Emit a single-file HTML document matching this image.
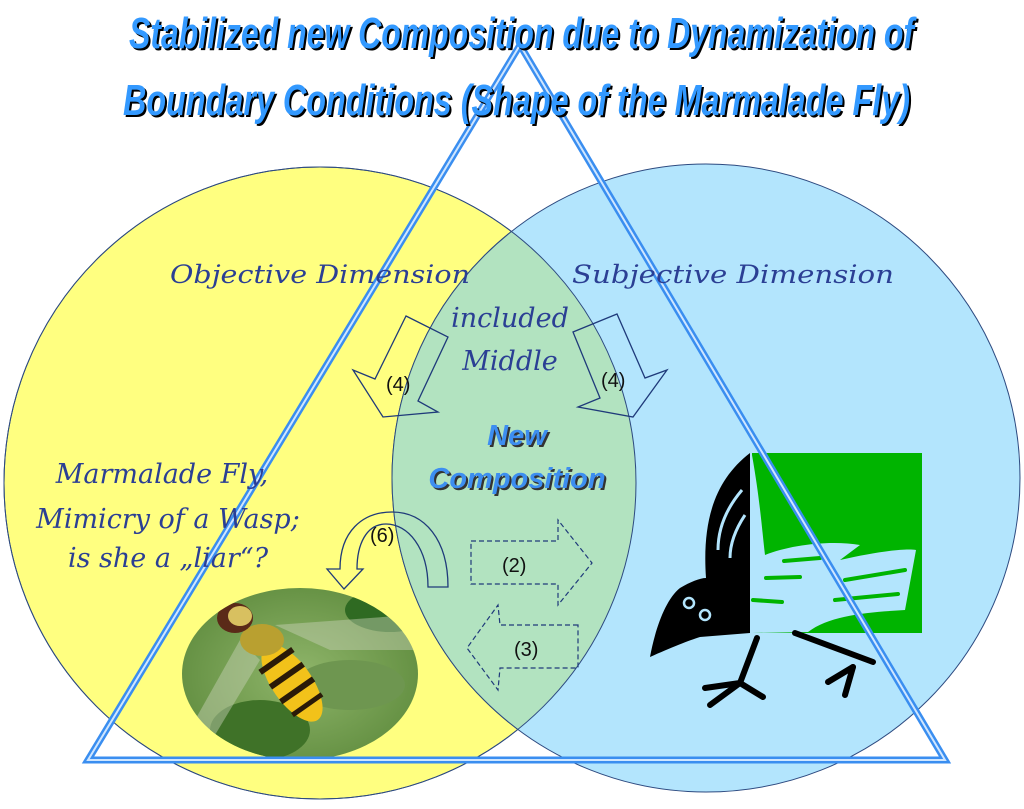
<!DOCTYPE html>
<html><head><meta charset="utf-8"><style>
html,body{margin:0;padding:0;background:#fff;}
svg{display:block}
.t{font-family:"Liberation Sans",sans-serif;font-style:italic;font-weight:bold;}
.h{font-family:"DejaVu Serif","Liberation Serif",serif;font-style:italic;fill:#2b3f94;}
.n{font-family:"Liberation Sans",sans-serif;fill:#111;font-size:20px;}
</style></head><body>
<svg width="1024" height="809" viewBox="0 0 1024 809" xmlns="http://www.w3.org/2000/svg">
<defs>
<clipPath id="cl"><circle cx="320" cy="483" r="316"/></clipPath>
<clipPath id="fe"><ellipse cx="300" cy="674" rx="118" ry="86"/></clipPath>
<radialGradient id="lg" cx="0.5" cy="0.5" r="0.6"><stop offset="0" stop-color="#8fb56a"/><stop offset="1" stop-color="#5d8a3c"/></radialGradient>
</defs>
<circle cx="320" cy="483" r="316" fill="#ffff80" stroke="#2d4a80" stroke-width="1"/>
<circle cx="706" cy="478" r="314" fill="#b3e5fd" stroke="#2d4a80" stroke-width="1"/>
<circle cx="706" cy="478" r="314" fill="#b2e3c0" stroke="#2d4a80" stroke-width="1" clip-path="url(#cl)"/>
<circle cx="320" cy="483" r="316" fill="none" stroke="#2d4a80" stroke-width="1"/>

<!-- fly photo -->
<g clip-path="url(#fe)">
<rect x="180" y="585" width="240" height="180" fill="url(#lg)"/>
<ellipse cx="390" cy="610" rx="45" ry="22" fill="#2f6a22"/>
<ellipse cx="350" cy="685" rx="55" ry="25" fill="#6e9650"/>
<ellipse cx="260" cy="730" rx="50" ry="30" fill="#3f7228"/>
<path d="M275,625 L410,615 L415,650 L330,650 Z" fill="#c9d3b8" opacity="0.45"/>
<path d="M240,640 L195,720 L215,735 L260,660 Z" fill="#c9d3b8" opacity="0.45"/>
<g transform="translate(292,683) rotate(55)">
<ellipse cx="0" cy="0" rx="45" ry="20" fill="#f2c21a"/>
<rect x="-30" y="-20" width="6" height="40" fill="#2a1a08"/>
<rect x="-12" y="-20" width="6" height="40" fill="#2a1a08"/>
<rect x="6" y="-20" width="6" height="40" fill="#2a1a08"/>
<rect x="24" y="-18" width="5" height="36" fill="#2a1a08"/>
</g>
<ellipse cx="262" cy="640" rx="22" ry="16" fill="#b9a030"/>
<ellipse cx="235" cy="618" rx="18" ry="15" fill="#5a2a18"/>
<ellipse cx="240" cy="616" rx="12" ry="10" fill="#d8c060"/>
</g>

<!-- bird -->
<rect x="752" y="453" width="170" height="180" fill="#00b400"/>
<path d="M752,455 C760,500 762,530 765,555 C790,545 830,540 860,545 L840,560 C875,552 905,548 916,550 L905,610 C870,612 830,615 808,632 L752,633 Z" fill="#b3e5fd"/>
<g stroke="#00b400" stroke-width="4" stroke-linecap="round" fill="none">
<path d="M784,561 L820,558"/><path d="M766,578 L800,577"/><path d="M753,600 L782,602"/>
<path d="M845,580 L905,570"/><path d="M835,600 L898,594"/>
</g>
<path d="M750,453 L750,633 L700,637 C690,640 670,648 650,657 C655,630 665,600 680,588 C690,582 700,578 706,578 C702,520 715,480 750,453 Z" fill="#000"/>
<path d="M742,490 C725,510 718,530 718,550" stroke="#b3e5fd" stroke-width="3" fill="none"/>
<path d="M745,515 C735,530 730,545 730,558" stroke="#b3e5fd" stroke-width="3" fill="none"/>
<circle cx="689" cy="603" r="5" fill="none" stroke="#b3e5fd" stroke-width="2.5"/>
<circle cx="705" cy="615" r="5" fill="none" stroke="#b3e5fd" stroke-width="2.5"/>
<g stroke="#000" stroke-width="6" stroke-linecap="round" fill="none">
<path d="M757,638 L740,683 L705,688"/><path d="M740,683 L710,705"/><path d="M740,683 L763,697"/>
<path d="M795,633 L873,662"/><path d="M853,667 L828,682"/><path d="M853,667 L845,695"/>
</g>

<!-- triangle -->
<polygon points="520,45 945,760 88,760" fill="none" stroke="#3a8ef0" stroke-width="7"/>
<polygon points="520,45 945,760 88,760" fill="none" stroke="#cfe6ff" stroke-width="2"/>

<!-- arrows -->
<g fill="none" stroke="#1f3a7a" stroke-width="1.3">
<polygon points="406,316 448,337 418,401 438,412 383,417 353,370 375,379"/>
<polygon points="573,332 617,314 645,378 667,370 633,417 578,407 600,398"/>
<path d="M448,587 L428,587 C428,548 408,524 386,524 C366,524 357,545 357,569 L363,569 L344,589 L327,569 L340,569 C340,532 362,512 392,512 C425,512 448,540 448,587 Z"/>
</g>
<g fill="none" stroke="#1f3a7a" stroke-width="1.2" stroke-dasharray="5,3">
<polygon points="471,541 558,541 558,520 592,563 558,605 558,584 471,584"/>
<polygon points="578,625 500,625 498,605 467,648 498,690 500,668 578,668"/>
</g>
<text class="n" x="386" y="391">(4)</text>
<text class="n" x="601" y="387">(4)</text>
<text class="n" x="370" y="542">(6)</text>
<text class="n" x="502" y="572">(2)</text>
<text class="n" x="514" y="656">(3)</text>

<!-- handwriting labels -->
<text class="h" x="170" y="283" font-size="25" textLength="300" lengthAdjust="spacingAndGlyphs">Objective Dimension</text>
<text class="h" x="572" y="283" font-size="25" textLength="322" lengthAdjust="spacingAndGlyphs">Subjective Dimension</text>
<text class="h" x="510" y="327" font-size="27" text-anchor="middle">included</text>
<text class="h" x="510" y="370" font-size="27" text-anchor="middle">Middle</text>
<text class="h" x="162" y="483" font-size="27" text-anchor="middle">Marmalade Fly,</text>
<text class="h" x="168" y="528" font-size="27" text-anchor="middle">Mimicry of a Wasp;</text>
<text class="h" x="168" y="567" font-size="27" text-anchor="middle">is she a „liar“?</text>

<!-- New Composition -->
<g class="t" font-size="29" text-anchor="middle">
<text x="519" y="447" fill="#333">New</text>
<text x="517" y="445" fill="#3d8ef0">New</text>
<text x="519" y="490" fill="#333">Composition</text>
<text x="517" y="488" fill="#3d8ef0">Composition</text>
</g>

<!-- title -->
<g class="t" font-size="44">
<text x="131" y="50" fill="#000" textLength="785" lengthAdjust="spacingAndGlyphs">Stabilized new Composition due to Dynamization  of</text>
<text x="129" y="48" fill="#3399ff" textLength="785" lengthAdjust="spacingAndGlyphs">Stabilized new Composition due to Dynamization  of</text>
<text x="125" y="117" fill="#000" textLength="787" lengthAdjust="spacingAndGlyphs">Boundary Conditions (Shape of the Marmalade  Fly)</text>
<text x="123" y="115" fill="#3399ff" textLength="787" lengthAdjust="spacingAndGlyphs">Boundary Conditions (Shape of the Marmalade  Fly)</text>
</g>
</svg>
</body></html>
